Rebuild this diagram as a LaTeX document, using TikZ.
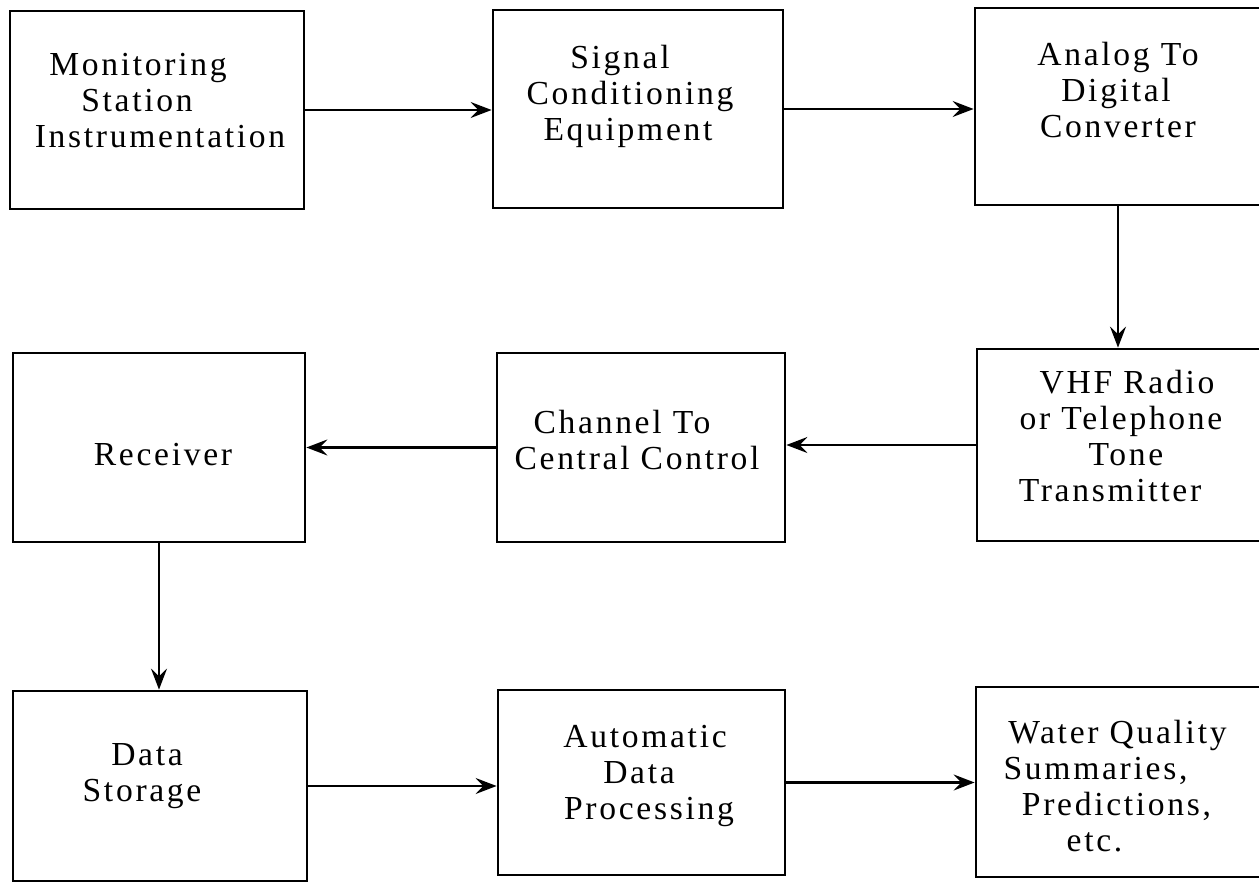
\documentclass[tikz,border=0pt]{standalone}
\usepackage{fontspec}
\setmainfont{Liberation Serif}[LetterSpace=8]
\usetikzlibrary{arrows.meta}
% one centred line of a label, moved sideways by #1
\newcommand\tline[2]{\makebox[0pt]{\hspace*{#1}\hspace*{#1}#2}\strut}
\begin{document}
\begin{tikzpicture}[x=0.5pt,y=-0.5pt,
  blk/.style={draw, line width=1.4pt, inner sep=0pt},
  lbl/.style={anchor=north, inner sep=0pt, align=center,
              font=\fontsize{16.8}{18}\selectfont},
  flow/.style={line width=1.1pt, -{Stealth[length=10.5pt,width=8pt,inset=3.8pt]}}]
\useasboundingbox (0,0) rectangle (1259,883);
\clip (0,0) rectangle (1259,883);

% blocks
\node[blk, minimum width=147pt, minimum height=99pt]   (A) at (157,110)    {};
\node[blk, minimum width=145pt, minimum height=99pt]   (B) at (638,109)    {};
\node[blk, minimum width=143pt, minimum height=98.5pt] (C) at (1118,106.5) {};
\node[blk, minimum width=146pt, minimum height=94.5pt] (D) at (159,447.5)  {};
\node[blk, minimum width=144pt, minimum height=94.5pt] (E) at (641,447.5)  {};
\node[blk, minimum width=144pt, minimum height=96pt]   (F) at (1121,445)   {};
\node[blk, minimum width=147pt, minimum height=95pt]   (G) at (160,786)    {};
\node[blk, minimum width=143.5pt, minimum height=92.5pt] (H) at (641.5,782.5) {};
\node[blk, minimum width=144.5pt, minimum height=95pt] (I) at (1120.5,782) {};

% labels
\node[lbl] (tA) at ([yshift=30pt]A.center)
  {\tline{-9.5pt}{Monitoring}\\\tline{-10pt}{Station}\\\tline{1.5pt}{Instrumentation}};
\node[lbl] (tB) at ([yshift=33pt]B.center)
  {\tline{-9pt}{Signal}\\\tline{-4pt}{Conditioning}\\\tline{-5pt}{Equipment}};
\node[lbl] (tC) at ([yshift=33.25pt]C.center)
  {\tline{0pt}{Analog To}\\\tline{-1pt}{Digital}\\\tline{0pt}{Converter}};
\node[lbl] (tD) at ([yshift=3.75pt]D.center)
  {\tline{2pt}{Receiver}};
\node[lbl] (tE) at ([yshift=19.75pt]E.center)
  {\tline{-9.5pt}{Channel To}\\\tline{-2pt}{Central Control}};
\node[lbl] (tF) at ([yshift=38.5pt]F.center)
  {\tline{3pt}{VHF Radio}\\\tline{0pt}{or Telephone}\\\tline{2.5pt}{Tone}\\\tline{-5.5pt}{Transmitter}};
\node[lbl] (tG) at ([yshift=23pt]G.center)
  {\tline{-6.5pt}{Data}\\\tline{-9pt}{Storage}};
\node[lbl] (tH) at ([yshift=30.25pt]H.center)
  {\tline{1.75pt}{Automatic}\\\tline{-1.25pt}{Data}\\\tline{3.75pt}{Processing}};
\node[lbl] (tI) at ([yshift=32pt]I.center)
  {\tline{-1.5pt}{Water Quality}\\\tline{-12.5pt}{Summaries,}\\\tline{-2pt}{Predictions,}\\\tline{-13pt}{etc.}};

% signal flow
\draw[flow] (A.east)  -- (A.east -| B.west);
\draw[flow] (B.east)  -- (B.east -| C.west);
\draw[flow] (C.south) -- (C.south |- F.north);
\draw[flow] (F.west)  -- (F.west -| E.east);
\draw[flow] (E.west)  -- (E.west -| D.east);
\draw[flow] (D.south) -- (D.south |- G.north);
\draw[flow] (G.east)  -- (G.east -| H.west);
\draw[flow] (H.east)  -- (H.east -| I.west);
\end{tikzpicture}
\end{document}
